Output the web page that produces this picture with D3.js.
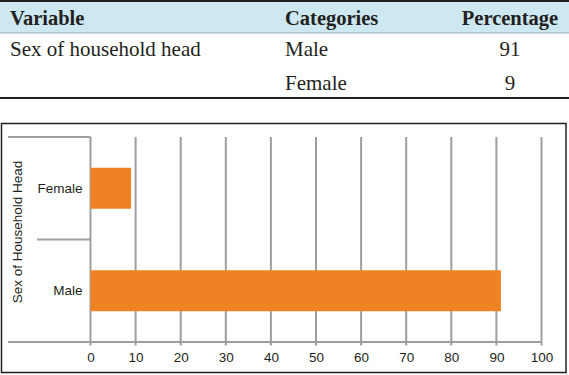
<!DOCTYPE html>
<html>
<head>
<meta charset="utf-8">
<script src="https://cdn.jsdelivr.net/npm/d3@7"></script>
<style>
  body { margin: 0; background: #fff; }
  svg { display: block; }
</style>
</head>
<body>
<svg id="chart" width="569" height="375"></svg>
<script>
// data
const headers = ["Variable", "Categories", "Percentage"];
const variableName = "Sex of household head";
const categories = ["Male", "Female"];
const percentages = [91, 9];
const axisTitle = "Sex of Household Head";
const xTicks = [0, 10, 20, 30, 40, 50, 60, 70, 80, 90, 100];

const svg = d3.select("#chart");
const ink = "#231f20";
const serif = "'Liberation Serif', 'Times New Roman', serif",
      sans = "'Liberation Sans', Arial, sans-serif";

// ---- table ----
let table = svg.append("g");
table.append("rect")
    .attr("x", 0).attr("y", 2).attr("width", 569).attr("height", 31)
    .attr("fill", "#cde8f1");
table.append("line")
    .attr("x1", 0).attr("x2", 569).attr("y1", 1).attr("y2", 1)
    .attr("stroke", ink).attr("stroke-width", 2);
table.append("line")
    .attr("x1", 0).attr("x2", 569).attr("y1", 33).attr("y2", 33)
    .attr("stroke", "#8a9ca2").attr("stroke-width", 0.8);
table.append("line")
    .attr("x1", 0).attr("x2", 569).attr("y1", 98).attr("y2", 98)
    .attr("stroke", ink).attr("stroke-width", 2);

let colX = [10, 285, 510],
    colAnchor = ["start", "start", "middle"];

table.selectAll("text.head")
    .data(headers)
    .enter().append("text")
    .attr("class", "head")
    .attr("x", (d, i) => colX[i])
    .attr("y", 24.5)
    .attr("text-anchor", (d, i) => colAnchor[i])
    .attr("font-family", serif)
    .attr("font-weight", "bold")
    .attr("font-size", 20.5)
    .attr("fill", ink)
    .text(d => d);

let rowY = d3.scalePoint().domain(categories).range([56, 90]);

table.append("text")
    .attr("x", colX[0]).attr("y", rowY(categories[0]))
    .attr("font-family", serif)
    .attr("font-size", 21).attr("fill", ink)
    .text(variableName);

let rows = table.selectAll("g.row")
    .data(categories.map((c, i) => ({cat: c, val: percentages[i]})))
    .enter().append("g")
    .attr("class", "row")
    .attr("font-family", serif)
    .attr("font-size", 21).attr("fill", ink);
rows.append("text")
    .attr("x", colX[1]).attr("y", d => rowY(d.cat))
    .text(d => d.cat);
rows.append("text")
    .attr("x", colX[2]).attr("y", d => rowY(d.cat))
    .attr("text-anchor", "middle")
    .text(d => d.val);

// ---- bar chart ----
svg.append("rect")
    .attr("x", 1.5).attr("y", 123.5).attr("width", 564.5).attr("height", 249)
    .attr("fill", "none").attr("stroke", ink).attr("stroke-width", 1.5);

let plot = {left: 90.5, right: 541.5, top: 137, bottom: 342};
let grey = "#9e9ea2";

let xScale = d3.scaleLinear().domain([0, 100]).range([plot.left, plot.right]);
let yScale = d3.scaleBand()
    .domain(["Female", "Male"])
    .range([plot.top, plot.bottom])
    .paddingInner(0.6).paddingOuter(0.3);

let chart = svg.append("g");

// vertical gridlines (run a few px past the axis as ticks)
chart.selectAll("line.grid")
    .data(xTicks)
    .enter().append("line")
    .attr("class", "grid")
    .attr("x1", d => xScale(d)).attr("x2", d => xScale(d))
    .attr("y1", plot.top).attr("y2", plot.bottom + 3.5)
    .attr("stroke", grey).attr("stroke-width", 2);

// category dividers
let step = yScale.step();
let dividers = [
    {y: plot.top, x0: 8},
    {y: plot.top + step, x0: 37},
    {y: plot.bottom, x0: 8}
];
chart.selectAll("line.div")
    .data(dividers)
    .enter().append("line")
    .attr("class", "div")
    .attr("x1", d => d.x0).attr("x2", (d, i) => i == 2 ? plot.right : plot.left)
    .attr("y1", d => d.y).attr("y2", d => d.y)
    .attr("stroke", grey).attr("stroke-width", 2);

// bars
chart.selectAll("rect.bar")
    .data(categories.map((c, i) => ({cat: c, val: percentages[i]})))
    .enter().append("rect")
    .attr("class", "bar")
    .attr("x", xScale(0))
    .attr("y", d => yScale(d.cat))
    .attr("width", d => xScale(d.val) - xScale(0))
    .attr("height", yScale.bandwidth())
    .attr("fill", "#f08223");

// x axis labels
let xAxis = d3.axisBottom(xScale).tickValues(xTicks).tickSize(0).tickPadding(10);
chart.append("g")
    .attr("transform", "translate(0," + plot.bottom + ")")
    .call(xAxis)
    .call(g => g.select(".domain").remove())
    .selectAll("text")
    .attr("font-family", sans)
    .attr("font-size", 13.5)
    .attr("fill", ink);

// y axis labels
let yAxis = d3.axisLeft(yScale).tickSize(0).tickPadding(8);
chart.append("g")
    .attr("transform", "translate(" + plot.left + ",0)")
    .call(yAxis)
    .call(g => g.select(".domain").remove())
    .selectAll("text")
    .attr("font-family", sans)
    .attr("font-size", 13.5)
    .attr("fill", ink);

// axis title
chart.append("text")
    .attr("transform", "translate(22," + 232 + ") rotate(-90)")
    .attr("text-anchor", "middle")
    .attr("font-family", sans)
    .attr("font-size", 13.5)
    .attr("fill", ink)
    .text(axisTitle);
</script>
</body>
</html>
